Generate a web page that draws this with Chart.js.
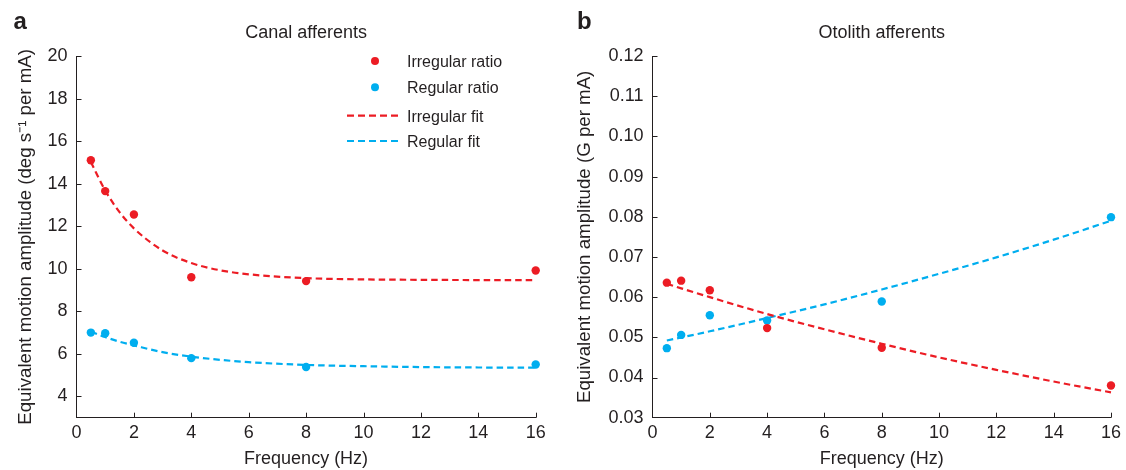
<!DOCTYPE html>
<html>
<head>
<meta charset="utf-8">
<title>Equivalent motion amplitude</title>
<script src="https://cdn.jsdelivr.net/npm/chart.js@4.4.1/dist/chart.umd.min.js"></script>
<style>
  html, body { margin: 0; padding: 0; background: #fff; }
  #wrap { position: relative; width: 1126px; height: 470px; overflow: hidden; }
  canvas { position: absolute; top: 0; }
  #canal { left: 0; }
  #otolith { left: 560px; }
</style>
</head>
<body>
<div id="wrap">
  <canvas id="canal" width="560" height="470"></canvas>
  <canvas id="otolith" width="566" height="470"></canvas>
</div>
<script>
"use strict";

// frequencies where ratios were measured (Hz)
const freqs = [0.5, 1, 2, 4, 8, 16];
const xTicks = [0, 2, 4, 6, 8, 10, 12, 14, 16];

// panel a - canal afferents (deg s-1 per mA)
const canalIrregular = [15.1, 13.65, 12.55, 9.6, 9.42, 9.92];
const canalRegular = [7.0, 6.97, 6.52, 5.8, 5.38, 5.5];
const canalFitFreqs = [0.5, 1, 1.5, 2, 3, 4, 5, 6, 8, 10, 12, 14, 16];
const canalIrregularFit = [15.02, 13.68, 12.66, 11.9, 10.86, 10.27, 9.93, 9.74, 9.56, 9.5, 9.48, 9.47, 9.47];
const canalRegularFit = [7.05, 6.79, 6.57, 6.4, 6.08, 5.87, 5.72, 5.61, 5.48, 5.42, 5.38, 5.36, 5.35];
const canalYTicks = [4, 6, 8, 10, 12, 14, 16, 18, 20];

// panel b - otolith afferents (G per mA)
const otoIrregular = [0.0636, 0.0641, 0.0617, 0.0523, 0.0474, 0.0380];
const otoRegular = [0.0473, 0.0506, 0.0555, 0.0542, 0.0589, 0.0799];
const otoFitFreqs = [0.5, 2, 4, 6, 8, 10, 12, 14, 16];
const otoIrregularFit = [0.0633, 0.0600, 0.0558, 0.0520, 0.0484, 0.0450, 0.0419, 0.0390, 0.0363];
const otoRegularFit = [0.0492, 0.0515, 0.0548, 0.0582, 0.0619, 0.0658, 0.0699, 0.0743, 0.0790];
const otoYTicks = [0.03, 0.04, 0.05, 0.06, 0.07, 0.08, 0.09, 0.10, 0.11, 0.12];

const RED = "#ec1c24", BLUE = "#00aeef", INK = "#231f20";
const FONT = "'Liberation Sans', Arial, Helvetica, sans-serif";
const DASH = [6.5, 4];

const pts = (xs, ys) => xs.map((x, i) => ({ x, y: ys[i] }));

function makeDatasets(irr, reg, fitXs, irrFit, regFit) {
    const dot = c => ({ showLine: false, pointRadius: 4.2, pointHoverRadius: 4.2, pointBackgroundColor: c, pointBorderWidth: 0, clip: false });
    const fit = c => ({ showLine: true, pointRadius: 0, borderColor: c, borderWidth: 2.2, borderDash: DASH, cubicInterpolationMode: "monotone", fill: false, clip: false });
    return [
        { label: "Irregular ratio", data: pts(freqs, irr), ...dot(RED) },
        { label: "Regular ratio", data: pts(freqs, reg), ...dot(BLUE) },
        { label: "Irregular fit", data: pts(fitXs, irrFit), ...fit(RED) },
        { label: "Regular fit", data: pts(fitXs, regFit), ...fit(BLUE) }
    ];
}

// inward tick marks, title, panel letter, and legend
const decor = {
    id: "decor",
    afterDraw(chart, args, o) {
        const { ctx, chartArea: a, scales: { x, y } } = chart;
        ctx.save();
        ctx.strokeStyle = INK; ctx.lineWidth = 1; ctx.setLineDash([]);
        ctx.beginPath();
        x.ticks.forEach((t, i) => {
            if (t.value === x.min) return;
            const px = Math.round(x.getPixelForTick(i)) + 0.5;
            ctx.moveTo(px, a.bottom); ctx.lineTo(px, a.bottom - 5);
        });
        y.ticks.forEach((t, i) => {
            if (t.value === y.min) return;
            const py = Math.round(y.getPixelForTick(i)) + 0.5;
            ctx.moveTo(a.left, py); ctx.lineTo(a.left + 5, py);
        });
        ctx.stroke();

        ctx.fillStyle = INK;
        ctx.textBaseline = "alphabetic";
        ctx.textAlign = "center";
        ctx.font = "18px " + FONT;
        ctx.fillText(o.title, (a.left + a.right) / 2, 37.5);
        ctx.textAlign = "left";
        ctx.font = "bold 24px " + FONT;
        ctx.fillText(o.letter, o.letterX, 29);

        if (o.legend) {
            const L = o.legend;
            ctx.font = "16px " + FONT;
            chart.data.datasets.forEach((ds, i) => {
                const cy = L.rows[i];
                if (ds.showLine) {
                    ctx.strokeStyle = ds.borderColor; ctx.lineWidth = 2.2; ctx.setLineDash([7, 4]);
                    ctx.beginPath(); ctx.moveTo(L.lineX0, cy); ctx.lineTo(L.lineX1, cy); ctx.stroke();
                    ctx.setLineDash([]);
                } else {
                    ctx.fillStyle = ds.pointBackgroundColor;
                    ctx.beginPath(); ctx.arc(L.dotX, cy, 4, 0, Math.PI * 2); ctx.fill();
                }
                ctx.fillStyle = INK;
                ctx.fillText(ds.label, L.textX, cy + 5.8);
            });
        }
        ctx.restore();
    }
};

function makeChart(id, cfg) {
    return new Chart(document.getElementById(id), {
        type: "scatter",
        data: { datasets: cfg.datasets },
        plugins: [decor],
        options: {
            responsive: false, animation: false, events: [],
            layout: { padding: { top: 56, right: cfg.padRight, left: 0, bottom: 0 } },
            plugins: { legend: { display: false }, tooltip: { enabled: false }, decor: cfg.decor },
            scales: {
                x: {
                    type: "linear", min: 0, max: 16,
                    afterBuildTicks: s => { s.ticks = xTicks.map(v => ({ value: v })); },
                    afterFit: s => { s.height = 52.3; },
                    grid: { display: false, drawTicks: false },
                    border: { display: true, color: INK, width: 1 },
                    ticks: { color: INK, padding: 5, maxRotation: 0, font: { family: FONT, size: 18 } },
                    title: { display: true, text: "Frequency (Hz)", color: INK, padding: { top: 0, bottom: 0 }, font: { family: FONT, size: 18 } }
                },
                y: {
                    type: "linear", min: cfg.yMin, max: cfg.yMax,
                    afterBuildTicks: s => { s.ticks = cfg.yTicks.map(v => ({ value: v })); },
                    afterFit: s => { s.width = cfg.yWidth; },
                    grid: { display: false, drawTicks: false },
                    border: { display: true, color: INK, width: 1 },
                    ticks: { color: INK, padding: 9, font: { family: FONT, size: 18 }, callback: cfg.yFormat },
                    title: { display: true, text: cfg.yTitle, color: INK, padding: { top: cfg.yTitlePad, bottom: 0 }, font: { family: FONT, size: 18.7 } }
                }
            }
        }
    });
}

makeChart("canal", {
    datasets: makeDatasets(canalIrregular, canalRegular, canalFitFreqs, canalIrregularFit, canalRegularFit),
    yMin: 3, yMax: 20, yTicks: canalYTicks, yWidth: 76.5, padRight: 24.3, yTitlePad: 14.8,
    yFormat: v => String(v),
    yTitle: "Equivalent motion amplitude (deg s\u207B\u00B9 per mA)",
    decor: {
        title: "Canal afferents", letter: "a", letterX: 13.5,
        legend: { dotX: 375, lineX0: 347, lineX1: 399, textX: 407, rows: [61, 87.3, 115.7, 141] }
    }
});

makeChart("otolith", {
    datasets: makeDatasets(otoIrregular, otoRegular, otoFitFreqs, otoIrregularFit, otoRegularFit),
    yMin: 0.03, yMax: 0.12, yTicks: otoYTicks, yWidth: 92.5, padRight: 13.7, yTitlePad: 13.8,
    yFormat: v => v.toFixed(2),
    yTitle: "Equivalent motion amplitude (G per mA)",
    decor: { title: "Otolith afferents", letter: "b", letterX: 17 }
});
</script>
</body>
</html>
